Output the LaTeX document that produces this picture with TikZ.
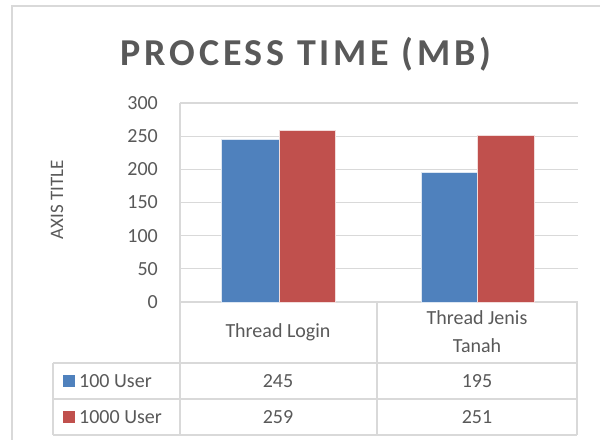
\documentclass[tikz,border=0pt]{standalone}
\usepackage{fontspec}
\setmainfont{Carlito}
\definecolor{gridgray}{HTML}{D9D9D9}
\definecolor{textgray}{HTML}{595959}
\definecolor{serblue}{HTML}{4F81BD}
\definecolor{serred}{HTML}{C0504D}
\begin{document}
\begin{tikzpicture}[x=1pt,y=-1pt,
  frameline/.style={draw=gridgray,line width=1.3pt},
  gridline/.style={draw=gridgray,line width=1.2pt},
  lbl/.style={text=textgray,inner sep=0pt,font=\fontsize{20}{24}\selectfont},
  bluebar/.style={fill=serblue,draw=white!80!serblue,line width=0.5pt},
  redbar/.style={fill=serred,draw=white!80!serred,line width=0.5pt}]
\useasboundingbox (0,0) rectangle (600,443);
\fill[white] (0,0) rectangle (600,443);
% outer chart frame
\draw[frameline] (12,440) -- (12,6) -- (600,6);
% title
\node[text=textgray,inner sep=0pt,font=\fontsize{38}{44}\selectfont\bfseries\addfontfeature{LetterSpace=10}] (title) at (306,54) {PROCESS TIME (MB)};
% axis title
\node[lbl,rotate=90,font=\fontsize{19}{22}\selectfont] (ytitle) at (57,200) {AXIS TITLE};
% gridlines and tick labels (0 at y=302, 300 at y=103)
\foreach \v in {0,50,...,300}{
  \draw[gridline] (180,{302-\v*0.66333}) -- (578,{302-\v*0.66333});
  \node[lbl,anchor=east] (tick\v) at (158,{302-\v*0.66333}) {\v};
}
% bars
\path[bluebar] (221,302) rectangle (279,{302-245*0.66333});
\path[redbar]  (279,302) rectangle (335,{302-259*0.66333});
\path[bluebar] (421,302) rectangle (477,{302-195*0.66333});
\path[redbar]  (477,302) rectangle (534,{302-251*0.66333});
% data table
\draw[gridline] (180,103) -- (180,435);
\draw[gridline] (377,302) -- (377,435);
\draw[gridline] (577,302) -- (577,435);
\draw[gridline] (53,363) -- (577,363);
\draw[gridline] (53,399) -- (577,399);
\draw[gridline] (53,435) -- (577,435);
\draw[gridline] (53,363) -- (53,435);
\node[lbl] (cat1) at (278,332) {Thread Login};
\node[lbl,align=center,font=\fontsize{20}{28}\selectfont] (cat2) at (477,332) {Thread Jenis\\Tanah};
\fill[serblue] (63,375) rectangle (75,387);
\fill[serred] (63,411) rectangle (75,423);
\node[lbl,anchor=west] (leg1) at (79,381) {100 User};
\node[lbl,anchor=west] (leg2) at (79,417) {1000 User};
\node[lbl] (v11) at (278,381) {245};
\node[lbl] (v12) at (477,381) {195};
\node[lbl] (v21) at (278,417) {259};
\node[lbl] (v22) at (477,417) {251};
\end{tikzpicture}
\end{document}
